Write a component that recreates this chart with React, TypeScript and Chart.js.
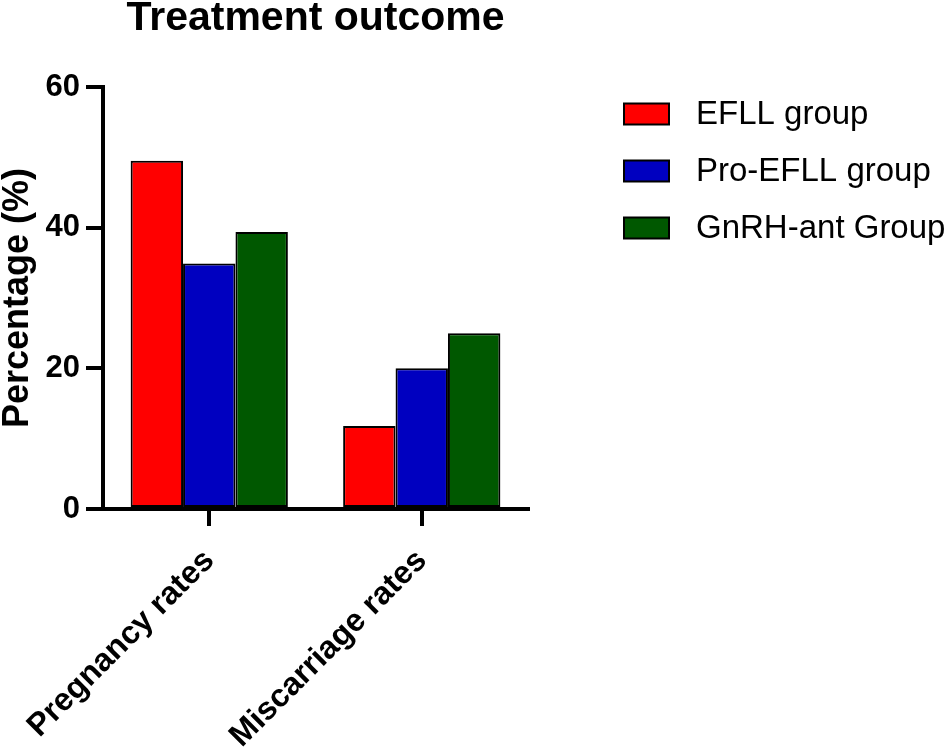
import { useEffect, useRef } from "react";
import { Chart, registerables } from "chart.js";

Chart.register(...registerables);

const FONT = "'Liberation Sans', Arial, Helvetica, sans-serif";

// values
const categories = ["Pregnancy rates", "Miscarriage rates"];
const efllGroup = [49.5, 11.8];
const proEfllGroup = [34.9, 20];
const gnrhAntGroup = [39.4, 25];
const seriesNames = ["EFLL group", "Pro-EFLL group", "GnRH-ant Group"];
const seriesColors = ["#FF0000", "#0000C0", "#005800"];
const yTicks = [0, 20, 40, 60];

// legend drawn beside the plot, like the GraphPad original
const sideLegend = {
  id: "sideLegend",
  afterDraw(chart: Chart, _args: unknown, opts: any) {
    const ctx = chart.ctx;
    ctx.save();
    chart.data.datasets.forEach((ds: any, i: number) => {
      const cy = opts.top + i * opts.rowGap;
      ctx.fillStyle = ds.backgroundColor;
      ctx.fillRect(opts.boxX, cy - opts.boxH / 2, opts.boxW, opts.boxH);
      ctx.lineWidth = 2;
      ctx.strokeStyle = "#000";
      ctx.strokeRect(opts.boxX, cy - opts.boxH / 2, opts.boxW, opts.boxH);
      ctx.fillStyle = "#000";
      ctx.font = `33px ${FONT}`;
      ctx.textAlign = "left";
      ctx.textBaseline = "middle";
      ctx.fillText(ds.label, opts.textX, cy + 1);
    });
    ctx.restore();
  },
};

export default function App() {
  const chartRef = useRef<HTMLCanvasElement | null>(null);
  const chartInstance = useRef<Chart | null>(null);

  useEffect(() => {
    document.body.style.margin = "0";
    if (!chartRef.current) return;
    if (chartInstance.current) {
      chartInstance.current.destroy();
    }

    const values = [efllGroup, proEfllGroup, gnrhAntGroup];

    chartInstance.current = new Chart(chartRef.current, {
      type: "bar",
      data: {
        labels: categories,
        datasets: values.map((v, i) => ({
          label: seriesNames[i],
          data: v,
          backgroundColor: seriesColors[i],
          borderColor: "#000",
          borderWidth: 2,
          borderSkipped: false,
          categoryPercentage: 0.74,
          barPercentage: 1,
        })),
      },
      plugins: [sideLegend],
      options: {
        animation: false,
        responsive: true,
        maintainAspectRatio: false,
        layout: { padding: { right: 423 } },
        plugins: {
          legend: { display: false },
          tooltip: { enabled: false },
          title: {
            display: true,
            text: "Treatment outcome",
            fullSize: false,
            color: "#000",
            font: { family: FONT, size: 41, weight: "bold", lineHeight: 1 },
            padding: { top: -2, bottom: 48 },
          },
          sideLegend: {
            top: 114,
            rowGap: 57,
            boxX: 624,
            boxW: 45,
            boxH: 21,
            textX: 696,
          },
        } as any,
        scales: {
          x: {
            offset: true,
            afterFit: (scale: any) => {
              scale.height = 239;
              scale.paddingLeft = 0;
              scale.paddingRight = 0;
            },
            border: { display: true, color: "#000", width: 4 },
            grid: {
              offset: false,
              drawOnChartArea: false,
              drawTicks: true,
              tickLength: 17,
              color: "#000",
              lineWidth: 4,
            },
            ticks: {
              autoSkip: false,
              minRotation: 45,
              maxRotation: 45,
              padding: 16,
              color: "#000",
              font: { family: FONT, size: 32, weight: "bold" },
            },
          },
          y: {
            min: 0,
            max: 60,
            afterFit: (scale: any) => {
              scale.width = 103;
            },
            afterBuildTicks: (scale: any) => {
              scale.ticks = yTicks.map((v) => ({ value: v }));
            },
            border: { display: true, color: "#000", width: 4 },
            grid: {
              drawOnChartArea: false,
              drawTicks: true,
              tickLength: 17,
              color: "#000",
              lineWidth: 4,
            },
            ticks: {
              padding: 6,
              color: "#000",
              font: { family: FONT, size: 31, weight: "bold" },
            },
            title: {
              display: true,
              text: "Percentage (%)",
              color: "#000",
              font: { family: FONT, size: 36, weight: "bold", lineHeight: 1 },
              padding: { top: 0, bottom: 0 },
            },
          },
        },
      },
    });

    return () => {
      if (chartInstance.current) {
        chartInstance.current.destroy();
        chartInstance.current = null;
      }
    };
  }, []);

  return (
    <div style={{ position: "relative", width: 951, height: 748, background: "#fff" }}>
      <canvas ref={chartRef}></canvas>
    </div>
  );
}
